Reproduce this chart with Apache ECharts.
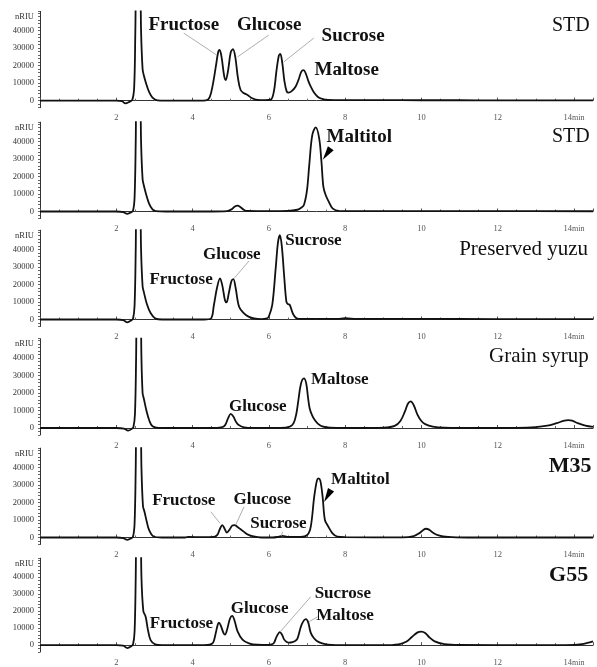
<!DOCTYPE html>
<html><head><meta charset="utf-8">
<script src="https://cdn.jsdelivr.net/npm/echarts@6/dist/echarts.min.js"></script>
<style>html,body{margin:0;padding:0;background:#fff}#c{width:597px;height:667px}</style>
</head><body><div id="c"></div>
<script>
// ---- data ----
const xTickLabels = [2, 4, 6, 8, 10, 12, 14];
const yTickLabels = [0, 10000, 20000, 30000, 40000];
const sampleNames = ['STD', 'STD', 'Preserved yuzu', 'Grain syrup', 'M35', 'G55'];

const traceSTD1 = [[0,0],[1.0,0],[2.0,0],[2.15,-300],[2.24,-1500],[2.33,-800],[2.42,500],[2.47,8000],[2.5,40000],[2.54,90000],[2.61,90000],[2.65,40000],[2.69,18000],[2.72,14700],[2.78,10000],[2.86,5000],[2.95,1800],[3.08,200],[3.3,0],[4.0,0],[4.35,200],[4.45,2000],[4.53,9000],[4.61,19400],[4.67,27500],[4.71,29000],[4.76,25000],[4.83,14000],[4.87,11800],[4.93,17000],[5.0,27500],[5.06,29500],[5.12,25000],[5.19,13000],[5.26,6100],[5.35,4200],[5.44,3300],[5.55,1500],[5.7,400],[5.9,300],[6.05,600],[6.13,5000],[6.2,17000],[6.26,25500],[6.3,26700],[6.35,22000],[6.41,11000],[6.47,5200],[6.52,4600],[6.6,5500],[6.7,8000],[6.78,12000],[6.85,16500],[6.91,17500],[6.97,15500],[7.04,11000],[7.1,8000],[7.18,4800],[7.28,2300],[7.4,1000],[7.54,400],[8,300],[9,300],[10,250],[11,250],[12,200],[13,200],[14.5,150]];
const traceSTD2 = [[0,0],[2.0,0],[2.18,-300],[2.29,-1300],[2.38,-600],[2.44,600],[2.48,8000],[2.51,40000],[2.54,90000],[2.61,90000],[2.65,40000],[2.69,18500],[2.72,15100],[2.78,10000],[2.86,4500],[2.95,1200],[3.03,200],[3.3,0],[4.5,0],[4.9,200],[5.02,1200],[5.1,2700],[5.18,3300],[5.26,2400],[5.35,900],[5.44,300],[6.0,200],[6.5,300],[6.75,1000],[6.84,2000],[6.92,3700],[7.0,12000],[7.06,26500],[7.14,43700],[7.23,48000],[7.32,41800],[7.38,28400],[7.43,14200],[7.49,9400],[7.58,5200],[7.67,1800],[7.84,300],[8.5,250],[10,250],[12,200],[14.5,150]];
const traceYuzu = [[0,0],[2.0,0],[2.18,-300],[2.29,-1600],[2.38,-700],[2.44,600],[2.48,8000],[2.51,40000],[2.54,90000],[2.61,90000],[2.65,40000],[2.69,19000],[2.72,15900],[2.8,9000],[2.9,3700],[3.03,500],[3.2,0],[4.3,0],[4.48,500],[4.56,8300],[4.64,18000],[4.72,23500],[4.78,19500],[4.85,11000],[4.89,9800],[4.95,15000],[5.02,22000],[5.07,23100],[5.13,18000],[5.22,7300],[5.35,3500],[5.48,1500],[5.61,600],[5.8,200],[5.95,600],[6.0,1700],[6.09,8300],[6.18,29200],[6.24,44000],[6.29,48200],[6.34,42000],[6.4,25400],[6.46,10200],[6.5,8800],[6.55,8300],[6.64,3000],[6.75,500],[7.0,300],[7.8,400],[8.0,700],[8.3,400],[9,350],[10,300],[12,250],[14.5,200]];
const traceGrain = [[0,0],[2.0,0],[2.2,-300],[2.31,-1500],[2.4,-600],[2.45,600],[2.49,8000],[2.52,40000],[2.55,90000],[2.62,90000],[2.66,40000],[2.69,20000],[2.72,17000],[2.79,10000],[2.87,4000],[2.95,1000],[3.1,100],[3.5,0],[4.5,0],[4.75,300],[4.85,1500],[4.93,5500],[5.0,8100],[5.07,6500],[5.14,3500],[5.2,1900],[5.35,400],[5.6,100],[6.3,100],[6.55,800],[6.65,2800],[6.72,8000],[6.77,15100],[6.84,25000],[6.92,28300],[6.98,25500],[7.03,17000],[7.07,11300],[7.13,7500],[7.2,4700],[7.3,2200],[7.4,900],[7.6,200],[8.5,0],[9.0,200],[9.3,1200],[9.45,4000],[9.57,9500],[9.65,14000],[9.72,15200],[9.8,13000],[9.9,7500],[10.0,4000],[10.1,2200],[10.3,800],[10.6,200],[11.5,0],[12.5,100],[13.0,500],[13.3,1300],[13.55,2800],[13.75,4200],[13.85,4500],[13.95,4200],[14.1,2800],[14.3,1400],[14.5,700]];
const traceM35 = [[0,0],[2.0,0],[2.18,-300],[2.29,-1300],[2.38,-600],[2.44,600],[2.48,8000],[2.51,40000],[2.54,90000],[2.62,90000],[2.66,40000],[2.7,18000],[2.74,14700],[2.8,9000],[2.86,4300],[2.98,600],[3.2,0],[3.8,0],[3.9,300],[4.3,200],[4.55,300],[4.65,1500],[4.72,5000],[4.78,7100],[4.84,5000],[4.9,2800],[4.97,4500],[5.04,6800],[5.1,7100],[5.18,6000],[5.26,4700],[5.35,3200],[5.44,1800],[5.6,600],[5.8,0],[6.1,0],[6.25,400],[6.36,900],[6.48,400],[6.7,300],[6.84,300],[7.01,1500],[7.1,6200],[7.19,23300],[7.26,32500],[7.3,33800],[7.35,32500],[7.41,23300],[7.47,10000],[7.55,6600],[7.67,2400],[7.8,500],[8.0,200],[9.5,100],[9.8,800],[9.95,2500],[10.05,4300],[10.12,5000],[10.2,4500],[10.3,2800],[10.45,1200],[10.7,300],[11.2,0],[14.5,0]];
const traceG55 = [[0,0],[2.0,0],[2.18,-300],[2.29,-1700],[2.38,-800],[2.44,600],[2.48,8000],[2.51,40000],[2.54,90000],[2.62,90000],[2.66,40000],[2.71,20000],[2.77,16700],[2.83,9000],[2.9,3000],[3.02,500],[3.2,0],[4.3,0],[4.45,300],[4.54,1500],[4.61,7300],[4.66,12000],[4.69,13200],[4.74,11500],[4.81,7200],[4.85,6200],[4.91,9500],[4.98,15500],[5.04,17200],[5.1,14500],[5.18,8100],[5.31,3300],[5.48,1100],[5.7,300],[6.0,200],[6.1,700],[6.14,1500],[6.21,5300],[6.29,7700],[6.35,6000],[6.4,3400],[6.47,1900],[6.53,1500],[6.62,1800],[6.7,2600],[6.75,3800],[6.86,12000],[6.97,15300],[7.03,13500],[7.1,7200],[7.18,4200],[7.26,2500],[7.4,1000],[7.55,300],[8.0,0],[9.0,0],[9.4,500],[9.6,2000],[9.75,4800],[9.9,7500],[10.0,8000],[10.1,7200],[10.2,4800],[10.35,2200],[10.6,600],[11,100],[13,0],[14.0,200],[14.2,600],[14.35,1300],[14.5,2200]];

// annotations: [text, time, value]
const peakLabels1 = [['Fructose',3.77,43200],['Glucose',6.01,43200],['Sucrose',8.21,36900],['Maltose',8.04,17500]];
const peakLabels2 = [['Maltitol',8.37,42400]];
const peakLabels3 = [['Fructose',3.70,22600],['Glucose',5.03,36800],['Sucrose',7.17,45000]];
const peakLabels4 = [['Glucose',5.71,12000],['Maltose',7.86,27400]];
const peakLabels5 = [['Fructose',3.77,21000],['Glucose',5.83,21400],['Sucrose',6.25,8100],['Maltitol',8.4,32800]];
const peakLabels6 = [['Fructose',3.71,12400],['Glucose',5.76,21400],['Sucrose',7.94,30400],['Maltose',8.0,17200]];
const leaders1 = [[[3.77,38600],[4.63,26100]],[[6.0,37500],[5.18,25000]],[[7.18,35800],[6.39,22100]]];
const leaders2 = [];
const leaders3 = [[[5.48,33400],[5.09,23500]]];
const leaders4 = [];
const leaders5 = [[[4.48,14700],[4.72,8100]],[[5.35,17600],[5.13,7100]],[[6.36,3300],[6.33,900]]];
const leaders6 = [[[7.1,28400],[6.31,8100]],[[7.28,16700],[7.06,13800]]];
const arrows2 = [[7.52,32800,145]];
const arrows5 = [[7.54,23800,150]];
const namePos = [[13.92,42600],[13.92,42500],[12.68,39900],[13.08,41100],[13.9,40500],[13.86,40800]];

// ---- layout ----
const traces = [traceSTD1, traceSTD2, traceYuzu, traceGrain, traceM35, traceG55];
const peakLabels = [peakLabels1, peakLabels2, peakLabels3, peakLabels4, peakLabels5, peakLabels6];
const leaders = [leaders1, leaders2, leaders3, leaders4, leaders5, leaders6];
const arrows = [[], arrows2, [], [], arrows5, []];
const peakFont = [19, 19, 17, 17, 17, 17];
const nameFont = [20, 20, 21, 21, 22, 22];
const nameBold = [false, false, false, false, true, true];
const zeroPx = [100.7, 211.5, 319.5, 428, 537.5, 647.5];
const YMIN = -4000, YMAX = 51000, PXPER = 571;
const SERIF = '"Liberation Serif", "DejaVu Serif", serif';

const grid = [], xAxis = [], yAxis = [], series = [];
zeroPx.forEach((z, i) => {
  const top = z - YMAX / PXPER;
  const height = (YMAX - YMIN) / PXPER;
  grid.push({left: 40, right: 4, top: top, height: height, containLabel: false});
  xAxis.push({
    type: 'value', gridIndex: i, min: 0, max: 14.5, interval: 2,
    axisLine: {show: true, lineStyle: {color: '#333', width: 1}},
    axisTick: {show: true, inside: true, length: 3, lineStyle: {color: '#555'}},
    minorTick: {show: true, splitNumber: 4, length: 2, lineStyle: {color: '#666'}},
    splitLine: {show: false},
    axisLabel: {
      show: true, margin: 6, fontFamily: SERIF, fontSize: 8.5, color: '#555',
      formatter: v => (xTickLabels.indexOf(v) < 0 ? '' : (v === 14 ? '{a|14}{b|min}' : String(v))),
      rich: {a: {fontFamily: SERIF, fontSize: 8.5, color: '#555'}, b: {fontFamily: SERIF, fontSize: 8, color: '#555'}}
    }
  });
  yAxis.push({
    type: 'value', gridIndex: i, min: YMIN, max: YMAX, interval: 2000,
    axisLine: {show: true, lineStyle: {color: '#333', width: 1}},
    axisTick: {show: true, length: 2, lineStyle: {color: '#666'}},
    splitLine: {show: false},
    axisLabel: {
      show: true, interval: 0, margin: 6, fontFamily: SERIF, fontSize: 8.5, color: '#333',
      formatter: v => (v === 48000 ? 'nRIU' : (yTickLabels.indexOf(v) >= 0 ? String(v) : ''))
    }
  });
  const mp = [];
  peakLabels[i].forEach(p => mp.push({
    coord: [p[1], p[2]], symbol: 'rect', symbolSize: 1, itemStyle: {color: 'rgba(0,0,0,0)'},
    label: {show: true, position: 'inside', formatter: p[0], fontFamily: SERIF, fontWeight: 'bold', fontSize: peakFont[i], color: '#111'}
  }));
  mp.push({
    coord: namePos[i], symbol: 'rect', symbolSize: 1, itemStyle: {color: 'rgba(0,0,0,0)'},
    label: {show: true, position: 'inside', formatter: sampleNames[i], fontFamily: SERIF, fontWeight: nameBold[i] ? 'bold' : 'normal', fontSize: nameFont[i], color: '#111'}
  });
  arrows[i].forEach(a => mp.push({
    coord: [a[0], a[1]], symbol: 'triangle', symbolSize: [7, 14], symbolRotate: a[2],
    itemStyle: {color: '#000'}, label: {show: false}
  }));
  series.push({
    type: 'line', xAxisIndex: i, yAxisIndex: i, data: traces[i],
    smooth: 0.35, showSymbol: false, symbol: 'none', clip: true,
    lineStyle: {color: '#111', width: 1.8},
    markPoint: {silent: true, animation: false, data: mp},
    markLine: {
      silent: true, animation: false, symbol: ['none', 'none'],
      lineStyle: {color: '#999', width: 0.8, type: 'solid'}, label: {show: false},
      data: leaders[i].map(l => [{coord: l[0]}, {coord: l[1]}])
    }
  });
});

const chart = echarts.init(document.getElementById('c'), null, {renderer: 'canvas'});
chart.setOption({animation: false, backgroundColor: '#fff', grid, xAxis, yAxis, series});
</script></body></html>
